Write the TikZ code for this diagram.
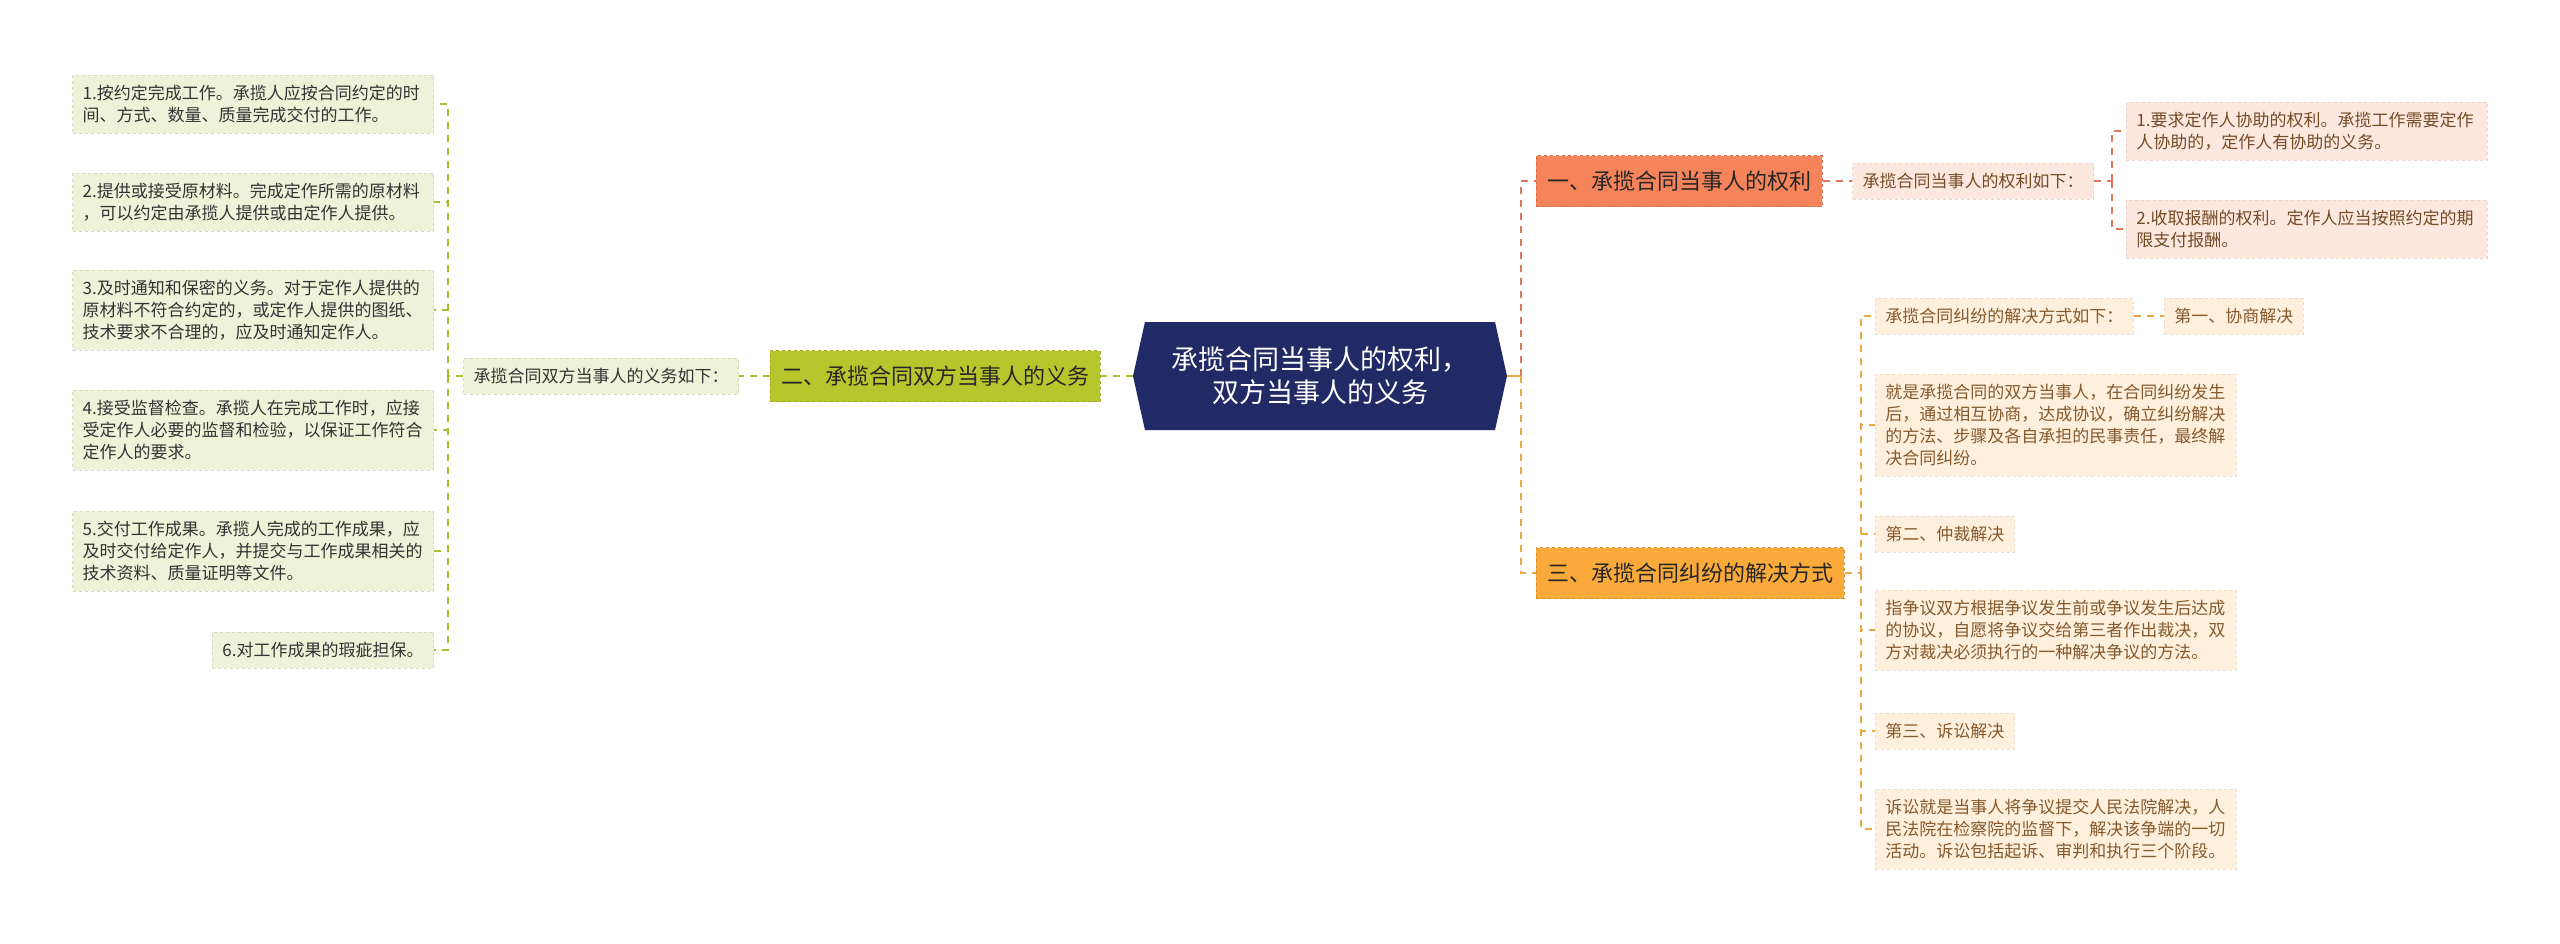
\documentclass[tikz,border=0pt]{standalone}
\usepackage{fontspec}
\setmainfont{Noto Sans CJK SC}
\usepackage{tikz}
\usetikzlibrary{shapes.symbols}
\definecolor{hubblue}{HTML}{222A66}
\definecolor{olive}{HTML}{B7C62C}
\definecolor{greenpale}{HTML}{EEF2D9}
\definecolor{greenline}{HTML}{A9BC2E}
\definecolor{coral}{HTML}{F5845A}
\definecolor{pinkpale}{HTML}{FDE8E0}
\definecolor{coralline}{HTML}{E0765A}
\definecolor{amber}{HTML}{FAAA3A}
\definecolor{creampale}{HTML}{FEF0DC}
\definecolor{amberline}{HTML}{EDA846}
\tikzset{hub/.style={signal,signal to=west and east,signal pointer angle=155,fill=hubblue,text=white,
   minimum width=374pt,minimum height=108pt,align=center,font=\fontsize{27}{33}\selectfont},
 topic/.style={draw,dashed,line width=1pt,inner xsep=11pt,minimum height=51pt,text=black!85,font=\fontsize{22}{26}\selectfont},
 leaf/.style={draw,dashed,line width=0.7pt,inner xsep=10pt,inner ysep=10pt,align=left,font=\fontsize{17}{22}\selectfont},
 wide/.style={text width=341pt},
 gleaf/.style={leaf,fill=greenpale,draw=greenpale!90!black,text=black!80},
 rleaf/.style={leaf,fill=pinkpale,draw=pinkpale!92!black,text=brown!60!black},
 oleaf/.style={leaf,fill=creampale,draw=creampale!92!black,text=brown!70!black},
 link/.style={line width=2pt,dash pattern=on 7pt off 6pt}}
\begin{document}
\begin{tikzpicture}[x=1pt,y=-1pt]
\useasboundingbox[fill=white] (0,0) rectangle (2560,943);
\node[hub] (hub) at (1320,376) {承揽合同当事人的权利，\\双方当事人的义务};

% left: duties
\node[topic,fill=olive,draw=olive!85!black] (duty) at (935,376) {二、承揽合同双方当事人的义务};
\node[gleaf] (dutyhd) at (601,376) {承揽合同双方当事人的义务如下：};
\node[gleaf,wide,anchor=east] (d1) at (434,104) {1.按约定完成工作。承揽人应按合同约定的时\\间、方式、数量、质量完成交付的工作。};
\node[gleaf,wide,anchor=east] (d2) at (434,202) {2.提供或接受原材料。完成定作所需的原材料\\，可以约定由承揽人提供或由定作人提供。};
\node[gleaf,wide,anchor=east] (d3) at (434,310) {3.及时通知和保密的义务。对于定作人提供的\\原材料不符合约定的，或定作人提供的图纸、\\技术要求不合理的，应及时通知定作人。};
\node[gleaf,wide,anchor=east] (d4) at (434,430) {4.接受监督检查。承揽人在完成工作时，应接\\受定作人必要的监督和检验，以保证工作符合\\定作人的要求。};
\node[gleaf,wide,anchor=east] (d5) at (434,551) {5.交付工作成果。承揽人完成的工作成果，应\\及时交付给定作人，并提交与工作成果相关的\\技术资料、质量证明等文件。};
\node[gleaf,anchor=east] (d6) at (434,650) {6.对工作成果的瑕疵担保。};
\coordinate (dbus) at (448,376);

% right: rights
\node[topic,fill=coral,draw=coral!85!black] (right) at (1679,181) {一、承揽合同当事人的权利};
\node[rleaf] (righthd) at (1973,181) {承揽合同当事人的权利如下：};
\node[rleaf,wide,anchor=west] (r1) at (2126,131) {1.要求定作人协助的权利。承揽工作需要定作\\人协助的，定作人有协助的义务。};
\node[rleaf,wide,anchor=west] (r2) at (2126,229) {2.收取报酬的权利。定作人应当按照约定的期\\限支付报酬。};
\coordinate (rbus) at (2112,181);

% right: disputes
\node[topic,fill=amber,draw=amber!85!black] (solve) at (1690,573) {三、承揽合同纠纷的解决方式};
\node[oleaf,anchor=west] (s1) at (1875,316) {承揽合同纠纷的解决方式如下：};
\node[oleaf,anchor=west] (s1a) at (2164,316) {第一、协商解决};
\node[oleaf,wide,anchor=west] (s2) at (1875,425) {就是承揽合同的双方当事人，在合同纠纷发生\\后，通过相互协商，达成协议，确立纠纷解决\\的方法、步骤及各自承担的民事责任，最终解\\决合同纠纷。};
\node[oleaf,anchor=west] (s3) at (1875,534) {第二、仲裁解决};
\node[oleaf,wide,anchor=west] (s4) at (1875,630) {指争议双方根据争议发生前或争议发生后达成\\的协议，自愿将争议交给第三者作出裁决，双\\方对裁决必须执行的一种解决争议的方法。};
\node[oleaf,anchor=west] (s5) at (1875,731) {第三、诉讼解决};
\node[oleaf,wide,anchor=west] (s6) at (1875,829) {诉讼就是当事人将争议提交人民法院解决，人\\民法院在检察院的监督下，解决该争端的一切\\活动。诉讼包括起诉、审判和执行三个阶段。};
\coordinate (sbus) at (1861,573);
\coordinate (hubr) at (1521,376);

\draw[link,greenline] (hub.west) -- (duty.east);
\draw[link,greenline] (duty.west) -- (dutyhd.east);
\draw[link,greenline] (dutyhd.west) -- (dbus);
\foreach \n in {d1,d2,d3,d4,d5,d6}
  \draw[link,greenline] (dbus) |- (\n.east);

\draw[line width=2pt,amberline] (hub.east) -- (hubr);
\draw[link,coralline] (hubr) |- (right.west);
\draw[link,amberline] (hubr) |- (solve.west);

\draw[link,coralline] (right.east) -- (righthd.west);
\draw[link,coralline] (righthd.east) -- (rbus);
\draw[link,coralline] (rbus) |- (r1.west);
\draw[link,coralline] (rbus) |- (r2.west);

\draw[link,amberline] (solve.east) -- (sbus);
\foreach \n in {s1,s2,s3,s4,s5,s6}
  \draw[link,amberline] (sbus) |- (\n.west);
\draw[link,amberline] (s1.east) -- (s1a.west);
\end{tikzpicture}
\end{document}
